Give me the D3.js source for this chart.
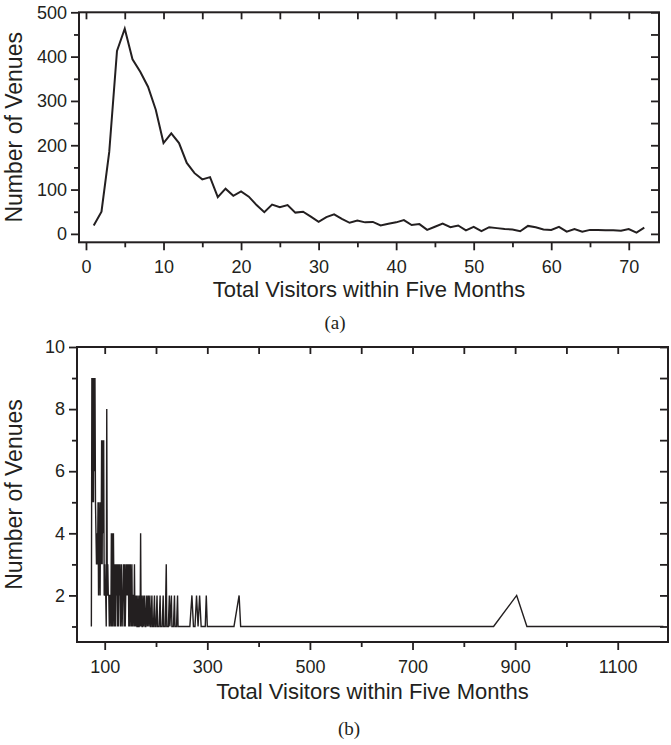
<!DOCTYPE html>
<html>
<head>
<meta charset="utf-8">
<script src="https://cdn.jsdelivr.net/npm/d3@7"></script>
<style>
  body { margin: 0; background: #fff; }
  text { fill: #231f20; }
  .tick text { font-family: "Liberation Sans", Arial, sans-serif; font-size: 18px; }
</style>
</head>
<body>
<script>
// chart (a): total visitors 1..72
const visitorsA = d3.range(1, 73);
const venuesA = [19, 50, 185, 413, 463, 394, 366, 332, 280, 205, 227, 205, 160, 137, 123, 128, 83, 102, 86, 96,
  84, 65, 49, 66, 60, 65, 48, 50, 39, 27, 38, 44, 34, 25, 30, 26, 27, 19, 23, 26,
  31, 20, 22, 9, 16, 23, 15, 19, 8, 16, 6, 15, 13, 11, 10, 6, 18, 15, 10, 9,
  16, 5, 11, 5, 9, 9, 8, 8, 7, 11, 3, 14];
const ticksXA = [0, 10, 20, 30, 40, 50, 60, 70];
const ticksYA = [0, 100, 200, 300, 400, 500];

// chart (b): venues with more than 72 visitors
const visitorsB = [74, 75, 76, 77, 78, 79, 80, 81, 82, 83, 84, 85, 86, 87, 88, 89, 90, 91, 92, 93,
  94, 95, 96, 97, 98, 99, 100, 101, 102, 103, 104, 105, 106, 107, 108, 109, 110, 111, 112, 113,
  114, 115, 116, 117, 118, 119, 120, 121, 122, 123, 124, 125, 126, 127, 128, 129, 130, 131, 132, 133,
  134, 135, 136, 137, 138, 139, 140, 141, 142, 143, 144, 145, 146, 147, 148, 149, 150, 151, 152, 153,
  154, 155, 156, 157, 158, 159, 160, 161, 162, 163, 164, 165, 166, 167, 168, 169, 170, 171, 172, 173,
  174, 175, 176, 178, 179, 180, 182, 183, 185, 186, 188, 189, 190, 192, 193, 195, 197, 198, 200, 202,
  203, 206, 208, 209, 212, 214, 215, 218, 220, 221, 224, 226, 227, 230, 231, 234, 236, 237, 240, 242,
  243, 250, 266, 270, 273, 276, 279, 282, 285, 288, 296, 298, 300, 352, 362, 365, 858, 903, 923, 1189];
const venuesB = [1, 9, 5, 9, 5, 9, 6, 9, 5, 4, 3, 4, 3, 5, 2, 5, 4, 2, 5, 3,
  7, 3, 7, 4, 7, 2, 3, 2, 2, 1, 8, 2, 3, 2, 2, 1, 2, 2, 1, 4,
  1, 4, 1, 4, 2, 1, 3, 1, 3, 2, 3, 1, 3, 1, 3, 2, 3, 1, 2, 3,
  1, 2, 2, 3, 1, 3, 1, 2, 3, 2, 3, 2, 3, 1, 3, 1, 3, 2, 1, 3,
  1, 2, 2, 1, 3, 1, 2, 1, 2, 1, 1, 2, 1, 1, 2, 1, 4, 1, 2, 1,
  1, 2, 1, 2, 1, 1, 2, 1, 2, 1, 2, 1, 1, 2, 1, 1, 2, 1, 1, 2,
  1, 1, 2, 1, 1, 2, 1, 1, 3, 1, 1, 2, 1, 2, 1, 1, 2, 1, 1, 2,
  1, 1, 1, 2, 1, 1, 2, 1, 2, 1, 1, 2, 1, 1, 2, 1, 1, 2, 1, 1];
const ticksXB = [100, 300, 500, 700, 900, 1100];
const minorXB = [200, 400, 600, 800, 1000];
const ticksYB = [2, 4, 6, 8, 10];

const W = 671, H = 745;
const ink = '#231f20';
const labelFont = '"Liberation Sans", Arial, sans-serif';

const svg = d3.select('body').append('svg')
  .attr('width', W)
  .attr('height', H);

function panel(cfg) {
  const g = svg.append('g');
  const x = cfg.x, y = cfg.y;
  const [x0, x1] = x.range();
  const [y0, y1] = y.range();

  // minor ticks first (no labels)
  g.append('g').attr('transform', `translate(0,${y0})`)
    .call(d3.axisBottom(x).tickValues(cfg.minorX).tickSize(cfg.minorLen).tickFormat(''));
  g.append('g').attr('transform', `translate(${x0},0)`)
    .call(d3.axisLeft(y).tickValues(cfg.minorY).tickSize(cfg.minorLen).tickFormat(''));
  // major ticks with labels
  g.append('g').attr('transform', `translate(0,${y0})`)
    .call(d3.axisBottom(x).tickValues(cfg.ticksX).tickSize(8).tickPadding(10).tickFormat(d3.format('d')));
  g.append('g').attr('transform', `translate(${x0},0)`)
    .call(d3.axisLeft(y).tickValues(cfg.ticksY).tickSize(8).tickPadding(4).tickFormat(d3.format('d')));
  // inward ticks on top and right
  g.append('g').attr('transform', `translate(0,${y1})`)
    .call(d3.axisTop(x).tickValues(cfg.topX).tickSize(-7).tickFormat(''));
  g.append('g').attr('transform', `translate(${x1},0)`)
    .call(d3.axisRight(y).tickValues(cfg.rightY).tickSize(-8).tickFormat(''));

  g.selectAll('.domain').remove();
  g.selectAll('.tick line').attr('stroke', ink).attr('stroke-width', 1.8);

  g.append('rect')
    .attr('x', x0).attr('y', y1)
    .attr('width', x1 - x0).attr('height', y0 - y1)
    .attr('fill', 'none').attr('stroke', ink).attr('stroke-width', 2);

  const line = d3.line().x(d => x(d[0])).y(d => y(d[1]));
  g.append('path')
    .attr('d', line(d3.zip(cfg.xs, cfg.ys)))
    .attr('fill', 'none')
    .attr('stroke', ink)
    .attr('stroke-width', cfg.lineW)
    .attr('stroke-linejoin', 'miter');

  g.append('text')
    .attr('transform', `translate(${cfg.ylabX},${(y0 + y1) / 2}) rotate(-90)`)
    .attr('text-anchor', 'middle')
    .attr('font-family', labelFont)
    .attr('font-size', 23)
    .text('Number of Venues');
  g.append('text')
    .attr('x', (x0 + x1) / 2 + cfg.titleDx).attr('y', cfg.titleY)
    .attr('text-anchor', 'middle')
    .attr('font-family', labelFont)
    .attr('font-size', 22)
    .text('Total Visitors within Five Months');
  g.append('text')
    .attr('x', cfg.capX).attr('y', cfg.capY)
    .attr('text-anchor', 'middle')
    .attr('font-family', '"Liberation Serif", "Times New Roman", serif')
    .attr('font-size', 19)
    .text(cfg.caption);
}

const xA = d3.scaleLinear().domain([-0.9, 73.9]).range([79, 659]);
const yA = d3.scaleLinear().domain([-19, 500]).range([242.3, 12.3]);
panel({
  x: xA, y: yA, xs: visitorsA, ys: venuesA,
  ticksX: ticksXA, minorX: d3.range(5, 75, 10),
  ticksY: ticksYA, minorY: d3.range(50, 500, 100),
  topX: d3.range(0, 75, 5), rightY: d3.range(0, 501, 50),
  minorLen: 5, lineW: 2,
  ylabX: 22, titleY: 297, titleDx: 0, capX: 335, capY: 329, caption: '(a)'
});

const xB = d3.scaleLinear().domain([46, 1198]).range([77, 668]);
const yB = d3.scaleLinear().domain([0.5, 10]).range([642, 347]);
panel({
  x: xB, y: yB, xs: visitorsB, ys: venuesB,
  ticksX: ticksXB, minorX: minorXB,
  ticksY: ticksYB, minorY: [1, 3, 5, 7, 9],
  topX: d3.range(100, 1200, 100), rightY: d3.range(1, 11, 1),
  minorLen: 5, lineW: 1.4,
  ylabX: 22, titleY: 699, titleDx: 0, capX: 349, capY: 735, caption: '(b)'
});
</script>
</body>
</html>
